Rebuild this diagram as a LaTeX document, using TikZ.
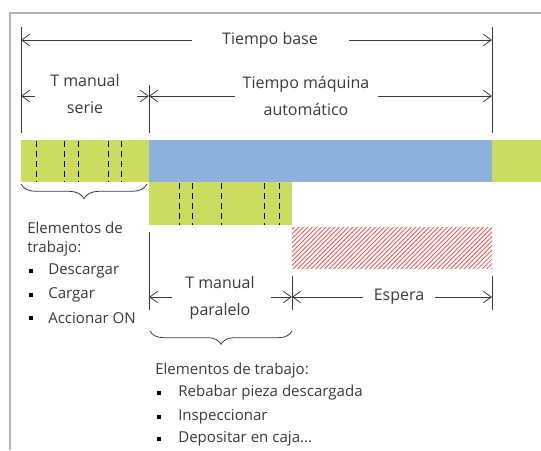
\documentclass[tikz,border=0pt]{standalone}
\usepackage{fontspec}
\setmainfont{Open Sans}
\usetikzlibrary{arrows.meta,decorations.pathreplacing}
\definecolor{barg}{HTML}{CCDC5E}
\definecolor{barb}{HTML}{8EB0DC}
\definecolor{hatchr}{HTML}{FF5555}
\definecolor{txt}{HTML}{3A3A3A}
\definecolor{framec}{HTML}{B4B4B4}
\begin{document}
\begin{tikzpicture}[x=0.75pt,y=-0.75pt,
  dim/.style={draw=txt, line width=0.6pt},
  arr/.style={dim, -{Straight Barb[length=6pt,width=8.5pt]}},
  lbl/.style={text=txt, font=\fontsize{12}{20.5}\selectfont, align=center, inner sep=1pt},
  item/.style={text=txt, font=\fontsize{11.3}{13}\selectfont, anchor=west, inner sep=0pt},
  bul/.style={fill=black, minimum size=3.4pt, inner sep=0pt},
  dashline/.style={draw=black, line width=0.6pt, dash pattern=on 4.5pt off 3pt},
  bracestyle/.style={draw=txt, line width=0.6pt, decorate}]
\useasboundingbox (0,0) rectangle (541,450);
% frame
\draw[framec, line width=1.5pt] (10,450) -- (10,13) -- (541,13);
% bars
\fill[barg] (21,140) rectangle (149,182);
\fill[barb] (149,140) rectangle (492,182);
\fill[barg] (492,140) rectangle (541,182);
\fill[barg] (149,182) rectangle (292,225);
\foreach \x in {36,64,78,108,121} \draw[dashline] (\x,141) -- (\x,182);
\foreach \x in {179,192,221,264,279} \draw[dashline] (\x,183) -- (\x,225);
% hatch
\begin{scope}
\clip (292,227) rectangle (492,268);
\foreach \i in {0,1,...,55} \draw[hatchr, line width=0.55pt] ({292+\i*4.5-45},270) -- ({292+\i*4.5},225);
\end{scope}
% vertical extension lines
\coordinate (a0) at (21,27);  \coordinate (a1) at (21,133);
\coordinate (b0) at (492,27); \coordinate (b1) at (492,133);
\coordinate (c0) at (149,85); \coordinate (c1) at (149,133);
\coordinate (d0) at (149,232); \coordinate (d1) at (149,310);
\coordinate (e0) at (292,276); \coordinate (e1) at (292,310);
\coordinate (f0) at (492,276); \coordinate (f1) at (492,310);
\foreach \p in {a,b,c,d,e,f} \draw[dim] (\p0) -- (\p1);
% Tiempo base
\node[lbl] (tb) at (270,40) {Tiempo base};
\draw[arr] (192,40) -- (21,40);
\draw[arr] (349,40) -- (492,40);
% T manual serie
\node[lbl] (tms) at (85,94) {T manual\\serie};
\draw[arr] (35,96) -- (21,96);
\draw[arr] (137,96) -- (149,96);
% Tiempo maquina automatico
\node[lbl] (tma) at (306,96) {Tiempo máquina\\automático};
\draw[arr] (235,96) -- (149,96);
\draw[arr] (378,96) -- (492,96);
% T manual paralelo
\node[lbl] (tmp) at (220,298) {T manual\\paralelo};
\draw[arr] (172,297) -- (149,297);
\draw[arr] (271,297) -- (292,297);
% Espera
\node[lbl] (esp) at (399,297) {Espera};
\draw[arr] (363,297) -- (292,297);
\draw[arr] (435,297) -- (492,297);
% braces
\draw[bracestyle, decoration={brace, mirror, amplitude=11pt}] (21,184) -- (147,184);
\draw[bracestyle, decoration={brace, mirror, amplitude=10pt}] (150,331) -- (292,331);
% left list
\node[item] (l1) at (27,228) {Elementos de};
\node[item] (l2) at (27,249) {trabajo:};
\node[bul] (lb1) at (31,271) {}; \node[item] (lt1) at (48,271) {Descargar};
\node[bul] (lb2) at (31,295) {}; \node[item] (lt2) at (48,295) {Cargar};
\node[bul] (lb3) at (31,318) {}; \node[item] (lt3) at (48,318) {Accionar ON};
% lower list
\node[item] (r0) at (155,371) {Elementos de trabajo:};
\node[bul] (rb1) at (159,393) {}; \node[item] (rt1) at (178,393) {Rebabar pieza descargada};
\node[bul] (rb2) at (159,417) {}; \node[item] (rt2) at (178,417) {Inspeccionar};
\node[bul] (rb3) at (159,439) {}; \node[item] (rt3) at (178,439) {Depositar en caja...};
\end{tikzpicture}
\end{document}
